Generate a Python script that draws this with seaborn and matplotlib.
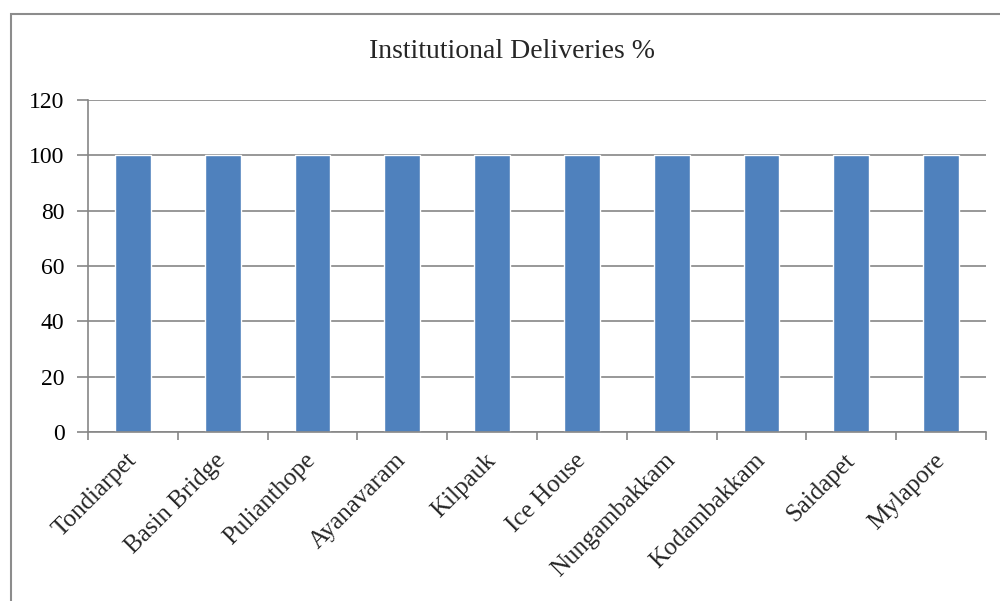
import matplotlib
matplotlib.use("Agg")
import matplotlib.pyplot as plt
import matplotlib.patches as mpatches
import seaborn as sns
import pandas as pd

areas = ["Tondiarpet", "Basin Bridge", "Pulianthope", "Ayanavaram", "Kilpauk",
         "Ice House", "Nungambakkam", "Kodambakkam", "Saidapet", "Mylapore"]
deliveries_pct = [100, 100, 100, 100, 100, 100, 100, 100, 100, 100]
y_ticks = [0, 20, 40, 60, 80, 100, 120]
title = "Institutional Deliveries %"

df = pd.DataFrame({"area": areas, "pct": deliveries_pct})

sns.set_theme(style="white")
plt.rcParams["font.family"] = ["Liberation Serif", "DejaVu Serif"]

fig = plt.figure(figsize=(10, 6.01), dpi=100)
W, H = 1000, 601
ax = fig.add_axes([88 / W, 1 - 432 / H, (986 - 88) / W, (432 - 100) / H])

sns.barplot(data=df, x="area", y="pct", color="#4F81BD", saturation=1,
            width=0.4, ax=ax, zorder=3)

grid_c = "#868686"
ax.set_ylim(0, 120)
ax.set_xlim(-0.5, len(areas) - 0.5)
ax.set_yticks(y_ticks)
ax.set_yticklabels([str(v) for v in y_ticks], fontsize=17)
for v in y_ticks:
    ax.axhline(v, color=grid_c, lw=1.2, zorder=1)
ax.set_xlabel("")
ax.set_ylabel("")

ax.set_xticks([i + 0.5 for i in range(-1, len(areas))], minor=False)
ax.set_xticklabels([])
ax.tick_params(axis="x", which="major", length=6, width=1.2, color=grid_c, bottom=True)
ax.tick_params(axis="y", which="major", length=8, width=1.2, color=grid_c, left=True,
               pad=9, labelcolor="black")
ax.set_xticks(range(len(areas)), minor=True)
ax.set_xticklabels(areas, minor=True, rotation=45, ha="right", va="center",
                   rotation_mode="anchor", fontsize=18)
ax.tick_params(axis="x", which="minor", length=0, pad=18)

for s in ["top", "right"]:
    ax.spines[s].set_visible(False)
for s in ["left", "bottom"]:
    ax.spines[s].set_color(grid_c)
    ax.spines[s].set_linewidth(1.2)
    ax.spines[s].set_zorder(4)

fig.text(512 / W, 1 - 52 / H, title, ha="center", va="center", fontsize=20)

frame = mpatches.Rectangle((10.5 / W, -0.1), 1.2, 1 - 14 / H + 0.1,
                           transform=fig.transFigure, fill=False,
                           edgecolor="#8c8c8c", lw=1.5)
fig.patches.append(frame)

fig.savefig("out.png", dpi=100)
